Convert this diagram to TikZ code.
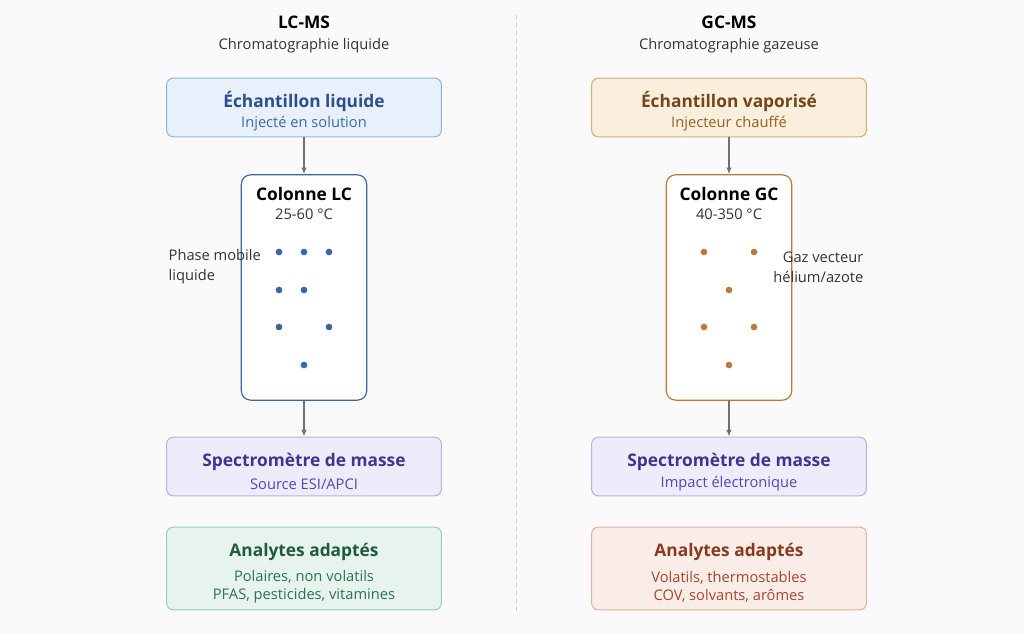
\documentclass[tikz,border=0pt]{standalone}
\usepackage{fontspec}
\setmainfont{Open Sans}
\usetikzlibrary{arrows.meta}
\definecolor{bg}{HTML}{FAFAFA}
\definecolor{bfill}{HTML}{E7F0FB}\definecolor{bdraw}{HTML}{93B5E1}\definecolor{btit}{HTML}{2B4F8A}\definecolor{bsub}{HTML}{3A6BB0}
\definecolor{ofill}{HTML}{FAEEDC}\definecolor{odraw}{HTML}{D8AE78}\definecolor{otit}{HTML}{74451A}\definecolor{osub}{HTML}{9A5E20}
\definecolor{pfill}{HTML}{EEECFB}\definecolor{pdraw}{HTML}{B9B2E8}\definecolor{ptit}{HTML}{3D358F}\definecolor{psub}{HTML}{4F47B0}
\definecolor{gfill}{HTML}{E7F4EE}\definecolor{gdraw}{HTML}{9CCFB6}\definecolor{gtit}{HTML}{1F5A3E}\definecolor{gsub}{HTML}{2E7050}
\definecolor{rfill}{HTML}{FAEDE8}\definecolor{rdraw}{HTML}{E3B1A2}\definecolor{rtit}{HTML}{873A20}\definecolor{rsub}{HTML}{A8452A}
\definecolor{colb}{HTML}{3A65A8}\definecolor{colo}{HTML}{B87A35}\definecolor{txt}{HTML}{333333}\definecolor{arr}{HTML}{707070}
\begin{document}
\begin{tikzpicture}[x=0.75pt,y=-0.75pt,
  box/.style={draw,rounded corners=5pt,line width=0.8pt,minimum width=206pt,minimum height=44pt},
  col/.style={draw,rounded corners=7pt,line width=0.9pt,fill=white,minimum width=94pt,minimum height=169pt},
  tit/.style={font=\fontsize{13}{15}\selectfont\bfseries},
  sub/.style={font=\fontsize{11}{13.5}\selectfont},
  lab/.style={font=\fontsize{11}{15}\selectfont,text=txt},
  ar/.style={-{Latex[length=5pt,width=4pt]},arr,line width=0.9pt},
  dot/.style={circle,inner sep=0pt,minimum size=5pt}]
\path[fill=bg] (0,0) rectangle (1024,634);
\draw[dashed,gray!40,line width=0.6pt] (516,15) -- (516,612);
% headers
\node[tit,text=black] (h1) at (304,22) {LC-MS};
\node[sub,text=txt] (s1) at (304,46) {Chromatographie liquide};
\node[tit,text=black] (h2) at (729,22) {GC-MS};
\node[sub,text=txt] (s2) at (729,46) {Chromatographie gazeuse};
% left
\node[box,fill=bfill,draw=bdraw] (e1) at (304,107.5) {};
\node[tit,text=btit] at (304,102) {Échantillon liquide};
\node[sub,text=bsub] at (304,124) {Injecté en solution};
\node[col,draw=colb] (c1) at (304,287.5) {};
\node[tit,text=black] at (304,194) {Colonne LC};
\node[sub,text=txt] at (304,214) {25-60 °C};
\foreach \p in {(279,252),(304,252),(329,252),(279,290),(304,290),(279,327),(329,327),(304,365)} \node[dot,fill=colb] at \p {};
\node[lab,align=left,anchor=west] at (164,267) {Phase mobile\\liquide};
\node[box,fill=pfill,draw=pdraw] (m1) at (304,466.5) {};
\node[tit,text=ptit] at (304,462) {Spectromètre de masse};
\node[sub,text=psub] at (304,484) {Source ESI/APCI};
\node[box,fill=gfill,draw=gdraw,minimum height=62pt] (a1) at (304,568.5) {};
\node[tit,text=gtit] at (304,552) {Analytes adaptés};
\node[sub,text=gsub,align=center] at (304,587) {Polaires, non volatils\\PFAS, pesticides, vitamines};
\draw[ar] (e1) -- (c1);
\draw[ar] (c1) -- (m1);
% right
\node[box,fill=ofill,draw=odraw] (e2) at (729,107.5) {};
\node[tit,text=otit] at (729,102) {Échantillon vaporisé};
\node[sub,text=osub] at (729,124) {Injecteur chauffé};
\node[col,draw=colo] (c2) at (729,287.5) {};
\node[tit,text=black] at (729,194) {Colonne GC};
\node[sub,text=txt] at (729,214) {40-350 °C};
\foreach \p in {(704,252),(754,252),(729,290),(704,327),(754,327),(729,365)} \node[dot,fill=colo] at \p {};
\node[lab,align=right,anchor=east] at (868,267) {Gaz vecteur\\hélium/azote};
\node[box,fill=pfill,draw=pdraw] (m2) at (729,466.5) {};
\node[tit,text=ptit] at (729,462) {Spectromètre de masse};
\node[sub,text=psub] at (729,484) {Impact électronique};
\node[box,fill=rfill,draw=rdraw,minimum height=62pt] (a2) at (729,568.5) {};
\node[tit,text=rtit] at (729,552) {Analytes adaptés};
\node[sub,text=rsub,align=center] at (729,587) {Volatils, thermostables\\COV, solvants, arômes};
\draw[ar] (e2) -- (c2);
\draw[ar] (c2) -- (m2);
\end{tikzpicture}
\end{document}
